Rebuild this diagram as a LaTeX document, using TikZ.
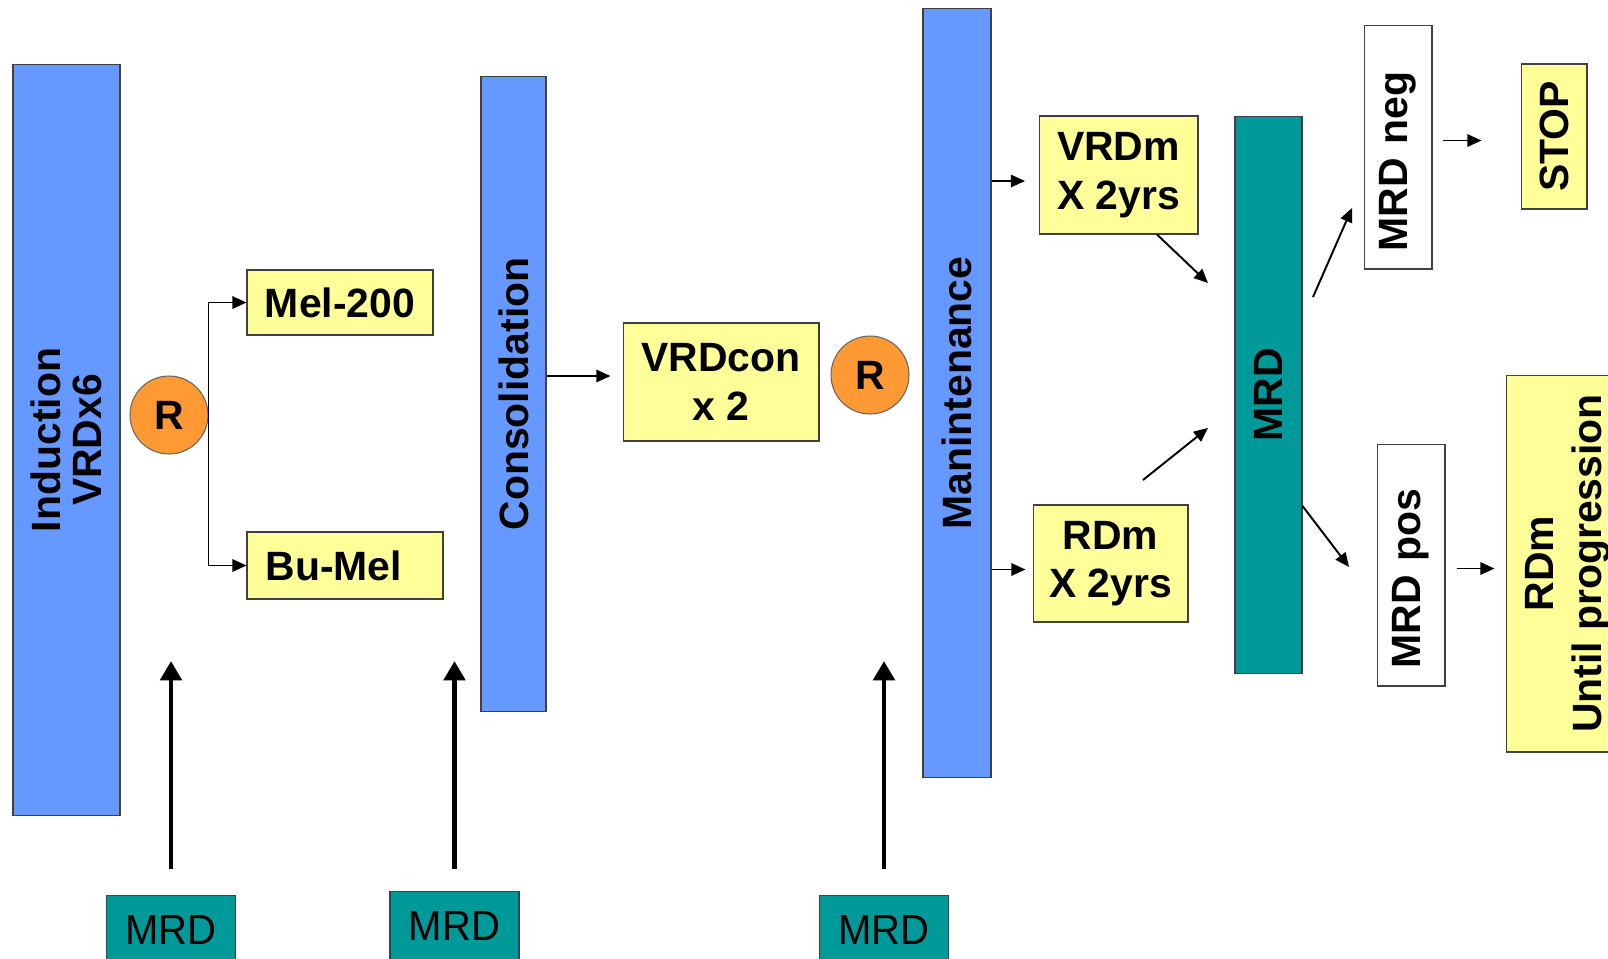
\documentclass[tikz,border=0pt]{standalone}
\usepackage{fontspec}
\setmainfont{Liberation Sans}
\newfontfamily\narrowsans[FakeStretch=0.95]{Liberation Sans}
\usetikzlibrary{arrows.meta}

\definecolor{barblue}{HTML}{6699FF}
\definecolor{noteyellow}{HTML}{FFFF99}
\definecolor{mrdteal}{HTML}{009999}
\definecolor{rorange}{HTML}{FF9933}
\newcommand{\bigfont}{\fontsize{23.3}{27.5}\selectfont\bfseries}
\newcommand{\tagfont}{\fontsize{24}{28}\selectfont\narrowsans}

\begin{document}
\begin{tikzpicture}[
    x=0.02cm, y=-0.02cm,
    bar/.style={rectangle, draw=black!75, line width=0.6pt, fill=barblue, inner sep=0pt, align=center, rotate=90, font=\bigfont},
    tealbar/.style={bar, fill=mrdteal},
    box/.style={rectangle, draw=black!75, line width=0.6pt, fill=noteyellow, inner sep=0pt, align=center, font=\bigfont},
    tag/.style={box, fill=white, rotate=90, align=left, inner xsep=0.35cm},
    rnode/.style={circle, draw=black!60, line width=0.6pt, fill=rorange, minimum size=1.56cm, inner sep=0pt, font=\bigfont},
    mrdtag/.style={rectangle, draw=black!75, line width=0.6pt, fill=mrdteal, minimum width=2.58cm, minimum height=1.4cm, inner sep=0pt, font=\tagfont},
    arrow/.style={-{Triangle[length=8pt,width=7pt]}, line width=1.1pt},
    bigarrow/.style={-{Triangle[length=11pt,width=12pt]}, line width=2.8pt}
]
\path[use as bounding box, fill=white] (0,0) rectangle (1608,958);
\clip (0,0) rectangle (1608,958);

% Induction
\node[bar, minimum width=15.04cm, minimum height=2.14cm] (induction) at (66.5,440) {Induction\\[-4pt]VRDx6};
\node[rnode] (r1) at (169,415) {R};
\node[box, minimum width=3.72cm, minimum height=1.3cm] (mel) at (340,302.5) {Mel-200};
\node[box, text width=3.18cm, align=left, inner xsep=0.37cm, minimum height=1.34cm] (bumel) at (345,565.5) {Bu-Mel};

% Consolidation
\node[bar, minimum width=12.72cm, minimum height=1.3cm] (cons) at (513.5,394) {Consolidation};
\node[box, minimum width=3.92cm, minimum height=2.36cm] (vrdcon) at (721,382) {VRDcon\\x 2};
\node[rnode] (r2) at (870,375) {R};

% Maintenance
\node[bar, minimum width=15.4cm, minimum height=1.36cm] (maint) at (957,393) {Manintenance};
\node[box, minimum width=3.18cm, minimum height=2.36cm] (vrdm) at (1118.5,175) {VRDm\\X 2yrs};
\node[box, minimum width=3.1cm, minimum height=2.34cm] (rdm) at (1110.5,563.5) {RDm\\X 2yrs};

% MRD decision
\node[tealbar, minimum width=11.16cm, minimum height=1.34cm] (mrd) at (1268.5,395) {MRD};
\node[tag, text width=4.18cm, minimum height=1.36cm] (neg) at (1398,147) {MRD neg};
\node[box, rotate=90, minimum width=2.9cm, minimum height=1.32cm] (stop) at (1554,136.5) {STOP};
\node[tag, text width=4.14cm, minimum height=1.36cm] (pos) at (1411,565) {MRD pos};
\node[box, rotate=90, minimum width=7.54cm, minimum height=2.48cm] (until) at (1568,563.5) {RDm\\Until progression};

% MRD time points
\node[mrdtag] (mrdA) at (171,930) {MRD};
\node[mrdtag] (mrdB) at (454.5,926) {MRD};
\node[mrdtag] (mrdC) at (884,930) {MRD};
\coordinate (tipA) at (171,661);
\coordinate (tipB) at (454.5,661);
\coordinate (tipC) at (884,661);

% free ends of the slanted arrows
\coordinate (mrdinA) at (1208,283);
\coordinate (mrdinB) at (1208,428);
\coordinate (rdmout) at (1143,480);
\coordinate (mrdoutA) at (1313,297);
\coordinate (negin) at (1352,208);
\coordinate (posin) at (1349,567);

% Arrows
\draw[arrow] (r1.east) |- (mel.west);
\draw[arrow] (r1.east) |- (bumel.west);
\draw[arrow, shorten >=0.24cm] ([yshift=0.12cm]cons.south |- vrdcon.west) -- ([yshift=0.12cm]vrdcon.west);
\draw[arrow, shorten >=0.27cm] ([yshift=-0.12cm]maint.south |- vrdm.west) -- ([yshift=-0.12cm]vrdm.west);
\draw[arrow, shorten >=0.14cm] ([yshift=-0.12cm]maint.south |- rdm.west) -- ([yshift=-0.12cm]rdm.west);
\draw[arrow] ([xshift=0.77cm]vrdm.south) -- (mrdinA);
\draw[arrow] (rdmout) -- (mrdinB);
\draw[arrow] (mrdoutA) -- (negin);
\draw[arrow] ([yshift=-2.22cm]mrd.south) -- (posin);
\draw[arrow, shorten <=0.2cm, shorten >=0.78cm] ([yshift=-0.08cm]neg.south |- stop.north) -- ([yshift=-0.08cm]stop.north);
\draw[arrow, shorten <=0.22cm, shorten >=0.22cm] ([yshift=-0.1cm]pos.south |- until.north) -- ([yshift=-0.1cm]until.north);
\draw[bigarrow, shorten <=0.52cm] (mrdA.north) -- (tipA);
\draw[bigarrow, shorten <=0.44cm] (mrdB.north) -- (tipB);
\draw[bigarrow, shorten <=0.52cm] (mrdC.north) -- (tipC);

\end{tikzpicture}
\end{document}
